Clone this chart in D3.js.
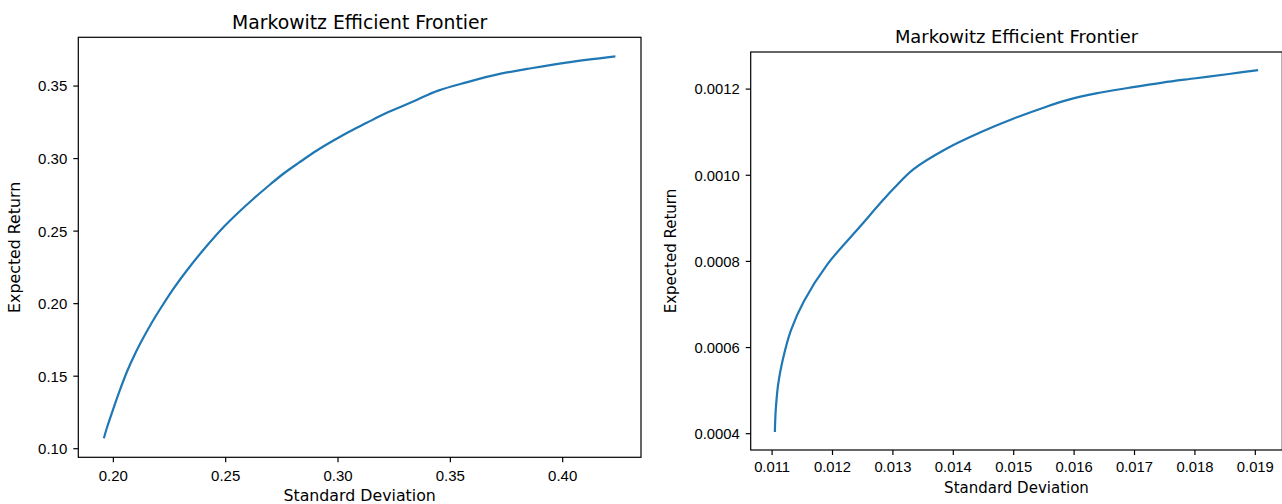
<!DOCTYPE html>
<html>
<head>
<meta charset="utf-8">
<script src="https://cdn.jsdelivr.net/npm/d3@7"></script>
<style>
  html, body { margin: 0; padding: 0; background: #fff; }
  svg { display: block; font-family: "DejaVu Sans", sans-serif; }
</style>
</head>
<body>
<svg id="chart" width="1282" height="504"></svg>
<script>
// Annualised frontier: standard deviation vs expected return
const annualStd = [0.1960, 0.1975, 0.1996, 0.2030, 0.2064, 0.2100, 0.2138, 0.2175, 0.2212,
  0.2270, 0.2330, 0.2410, 0.2493, 0.2560, 0.2626, 0.2700, 0.2759, 0.2830, 0.2908, 0.2980,
  0.3056, 0.3130, 0.3203, 0.3280, 0.3352, 0.3448, 0.3574, 0.3722, 0.3869, 0.4018, 0.4237];
const annualRet = [0.1069, 0.1148, 0.1245, 0.1395, 0.1532, 0.1655, 0.1768, 0.1870, 0.1963,
  0.2100, 0.2227, 0.2380, 0.2525, 0.2627, 0.2720, 0.2818, 0.2892, 0.2970, 0.3052, 0.3119,
  0.3185, 0.3243, 0.3300, 0.3352, 0.3401, 0.3465, 0.3522, 0.3580, 0.3621, 0.3658, 0.3701];

// Daily frontier: standard deviation vs expected return
const dailyStd = [0.011054, 0.011060, 0.011071, 0.011109, 0.011181, 0.011318, 0.011537, 0.011923,
  0.012472, 0.012856, 0.013021, 0.013351, 0.013901, 0.014450, 0.014999, 0.015550,
  0.015934, 0.016374, 0.016923, 0.017472, 0.018023, 0.018572, 0.019055];
const dailyRet = [0.000403, 0.000430, 0.000459, 0.000514, 0.000568, 0.000638, 0.000707, 0.000792,
  0.000881, 0.000943, 0.000968, 0.001013, 0.001061, 0.001098, 0.001130, 0.001158,
  0.001175, 0.001189, 0.001202, 0.001214, 0.001224, 0.001234, 0.001243];

// Tick values
const annualXTicks = [0.20, 0.25, 0.30, 0.35, 0.40];
const annualYTicks = [0.10, 0.15, 0.20, 0.25, 0.30, 0.35];
const dailyXTicks = [0.011, 0.012, 0.013, 0.014, 0.015, 0.016, 0.017, 0.018, 0.019];
const dailyYTicks = [0.0004, 0.0006, 0.0008, 0.0010, 0.0012];

const titleText = "Markowitz Efficient Frontier";
const xLabelText = "Standard Deviation";
const yLabelText = "Expected Return";

const svg = d3.select("#chart");
const LINE = "#1f77b4";

function padded(values) {
  const [lo, hi] = d3.extent(values);
  const m = (hi - lo) * 0.05;
  return [lo - m, hi + m];
}

function panel(cfg) {
  const { box, xs, ys, xTicks, yTicks, xFmt, yFmt, tickFont, labelFont, titleFont,
          titleDy, xTickDy, xLabelY, yLabelX } = cfg;
  const x = d3.scaleLinear().domain(padded(xs)).range([box.left, box.right]);
  const y = d3.scaleLinear().domain(padded(ys)).range([box.bottom, box.top]);
  const g = svg.append("g");

  // x axis
  const xAxis = d3.axisBottom(x).tickValues(xTicks).tickFormat(d3.format(xFmt))
    .tickSize(5).tickPadding(5).tickSizeOuter(0);
  const gx = g.append("g").attr("transform", `translate(0,${box.bottom})`).call(xAxis);
  gx.select(".domain").remove();
  gx.selectAll(".tick line").attr("stroke", "#000").attr("stroke-width", 1.2);
  gx.selectAll(".tick text").attr("fill", "#000").attr("font-size", tickFont)
    .attr("dy", null).attr("y", xTickDy);

  // y axis
  const yAxis = d3.axisLeft(y).tickValues(yTicks).tickFormat(d3.format(yFmt))
    .tickSize(5).tickPadding(6).tickSizeOuter(0);
  const gy = g.append("g").attr("transform", `translate(${box.left},0)`).call(yAxis);
  gy.select(".domain").remove();
  gy.selectAll(".tick line").attr("stroke", "#000").attr("stroke-width", 1.2);
  gy.selectAll(".tick text").attr("fill", "#000").attr("font-size", tickFont)
    .attr("dy", "0.36em");

  // frontier curve
  const pts = xs.map((v, i) => [v, ys[i]]);
  g.append("path").datum(pts)
    .attr("fill", "none").attr("stroke", LINE).attr("stroke-width", 2.2)
    .attr("stroke-linejoin", "round").attr("stroke-linecap", "butt")
    .attr("d", d3.line().curve(d3.curveCatmullRom.alpha(0.5))
      .x(d => x(d[0])).y(d => y(d[1])));

  // frame
  g.append("rect")
    .attr("x", box.left).attr("y", box.top)
    .attr("width", box.right - box.left).attr("height", box.bottom - box.top)
    .attr("fill", "none").attr("stroke", "#000").attr("stroke-width", 1.2);

  // title and axis labels
  g.append("text").attr("x", (box.left + box.right) / 2).attr("y", box.top - titleDy)
    .attr("text-anchor", "middle").attr("font-size", titleFont).attr("fill", "#000")
    .text(titleText);
  g.append("text").attr("x", (box.left + box.right) / 2).attr("y", xLabelY)
    .attr("text-anchor", "middle").attr("font-size", labelFont).attr("fill", "#000")
    .text(xLabelText);
  g.append("text")
    .attr("transform", `translate(${yLabelX},${(box.top + box.bottom) / 2}) rotate(-90)`)
    .attr("text-anchor", "middle").attr("font-size", labelFont).attr("fill", "#000")
    .text(yLabelText);
}

panel({
  box: { left: 78.3, right: 641, top: 37.3, bottom: 457.3 },
  xs: annualStd, ys: annualRet, xTicks: annualXTicks, yTicks: annualYTicks,
  xFmt: ".2f", yFmt: ".2f", tickFont: 15, labelFont: 15.8, titleFont: 18.8,
  titleDy: 8.5, xTickDy: 24, xLabelY: 500.5, yLabelX: 19.8
});

panel({
  box: { left: 750.7, right: 1282.3, top: 52, bottom: 450 },
  xs: dailyStd, ys: dailyRet, xTicks: dailyXTicks, yTicks: dailyYTicks,
  xFmt: ".3f", yFmt: ".4f", tickFont: 14.8, labelFont: 15, titleFont: 17.9,
  titleDy: 9.3, xTickDy: 22.3, xLabelY: 492.7, yLabelX: 675.5
});
</script>
</body>
</html>
